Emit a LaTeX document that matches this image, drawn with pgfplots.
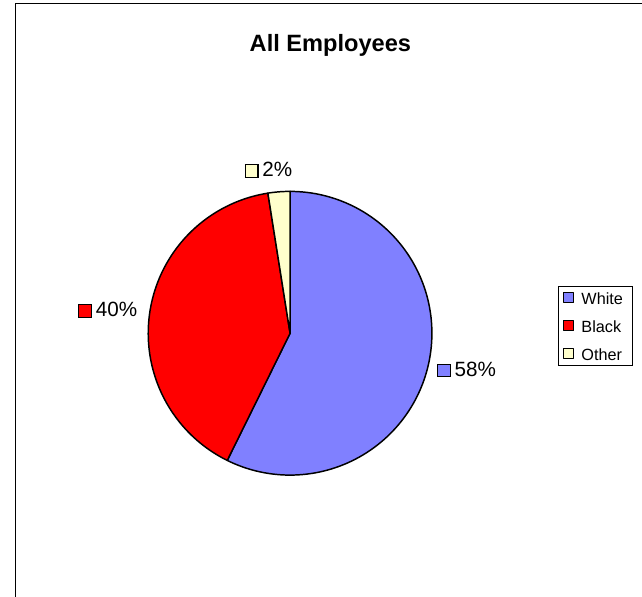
\documentclass[border=0pt]{standalone}
\usepackage{pgfplots}
\pgfplotsset{compat=1.18}
\usepackage{fontspec}
\setmainfont{Liberation Sans}

\definecolor{cwhite}{HTML}{8080FF}
\definecolor{cblack}{HTML}{FF0000}
\definecolor{cother}{HTML}{FFFFCC}

% small framed colour square used in the percentage labels
\newcommand\swatch[1]{{\setlength\fboxsep{0pt}\setlength\fboxrule{1.2bp}%
  \fcolorbox{black}{#1}{\rule{0pt}{11.6bp}\rule{11.6bp}{0pt}}}}

% shares (percent)
\def\vWhite{57.3}
\def\vBlack{40.2}
\def\vOther{2.5}

% pie geometry, in pixel units of the picture
\def\cx{284}
\def\cy{268}
\def\r{144.3}

\begin{document}
\pgfmathsetmacro\aA{90}
\pgfmathsetmacro\aB{\aA-3.6*\vWhite}
\pgfmathsetmacro\aC{\aB-3.6*\vBlack}
\pgfmathsetmacro\aD{\aC-3.6*\vOther}
\begin{tikzpicture}
\begin{axis}[
    scale only axis,
    width=642bp, height=607bp,
    xmin=0, xmax=642, ymin=0, ymax=607,
    hide axis,
    clip=false,
    legend image code/.code={%
        \path[draw=none, fill=none] (-5bp,0) -- (18bp,0);
        \draw[#1, draw=black, line width=1bp] (0bp,-5bp) rectangle (10bp,5bp);},
    legend cell align=left,
    legend style={
        at={(557/642,316/607)}, anchor=north west,
        draw=black, line width=0.8bp,
        font=\fontsize{16.5bp}{19bp}\selectfont,
        inner xsep=0pt, inner ysep=4.75bp,
        row sep=15bp,
        nodes={inner sep=0pt, text height=13.5bp, text depth=0pt},
    },
]
\addplot[fill=cwhite, draw=black, line width=1.5bp, line join=round, domain=\aB:\aA, samples=120, variable=\t]
    ({\cx+\r*cos(\t)},{\cy+\r*sin(\t)}) -- (\cx,\cy) -- cycle;
\addplot[fill=cblack, draw=black, line width=1.5bp, line join=round, domain=\aC:\aB, samples=90, variable=\t]
    ({\cx+\r*cos(\t)},{\cy+\r*sin(\t)}) -- (\cx,\cy) -- cycle;
\addplot[fill=cother, draw=black, line width=1.5bp, line join=round, domain=\aD:\aC, samples=10, variable=\t]
    ({\cx+\r*cos(\t)},{\cy+\r*sin(\t)}) -- (\cx,\cy) -- cycle;
\legend{White\kern9.8bp\relax, Black, Other}

\node[anchor=base, font=\fontsize{24bp}{28bp}\selectfont\bfseries] at (325,554.5) {All Employees};

\node[anchor=west, inner sep=0pt, font=\fontsize{21bp}{25bp}\selectfont] at (237.7,434) {\swatch{cother}\hspace{4bp}2\%};
\node[anchor=west, inner sep=0pt, font=\fontsize{21bp}{25bp}\selectfont] at (68.3,291.5) {\swatch{cblack}\hspace{4bp}40\%};
\node[anchor=west, inner sep=0pt, font=\fontsize{21bp}{25bp}\selectfont] at (433.3,231) {\swatch{cwhite}\hspace{4bp}58\%};

% chart area frame (runs off the right and bottom edges)
\draw[black, line width=1.5bp, line cap=butt] (4.8,0) -- (4.8,603.6) -- (642,603.6);
\end{axis}
\pgfresetboundingbox
\useasboundingbox (0,0) rectangle (642bp,607bp);
\end{tikzpicture}
\end{document}
